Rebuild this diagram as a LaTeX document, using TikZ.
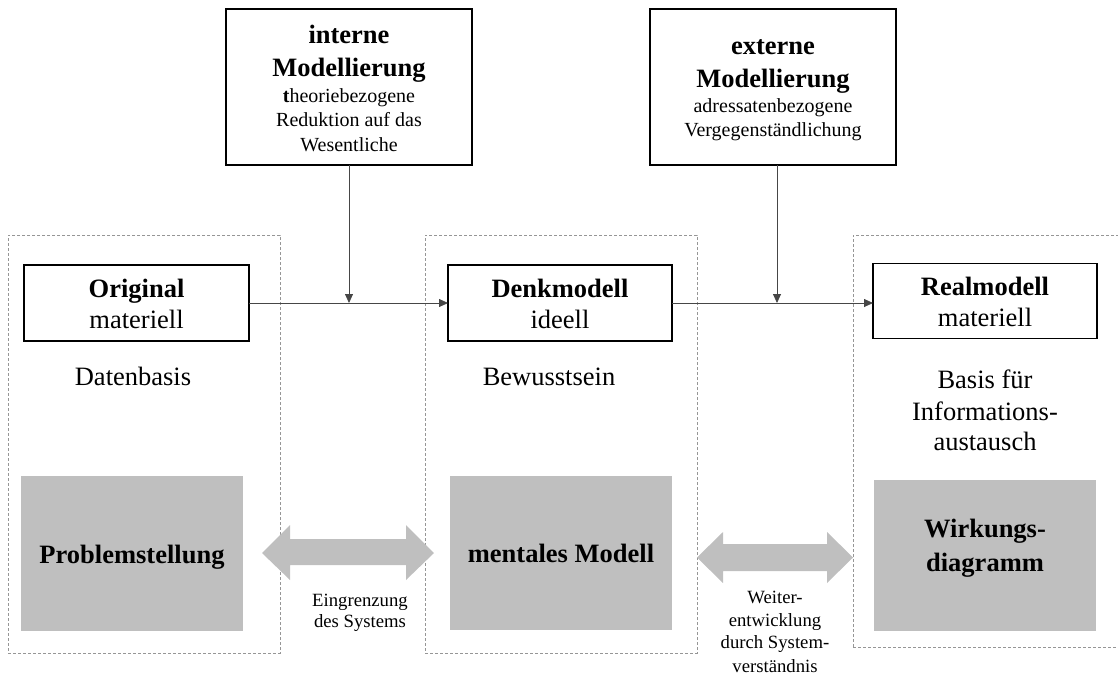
\documentclass[tikz,border=0pt]{standalone}
\usepackage{fontspec}
\setmainfont{Liberation Serif}
\usetikzlibrary{arrows.meta}
\definecolor{greyfill}{RGB}{191,191,191}
\definecolor{dashgrey}{RGB}{150,150,150}
\definecolor{linegrey}{RGB}{70,70,70}
\begin{document}
\begin{tikzpicture}[x=1pt,y=-1pt,
 box/.style={draw=black, line width=1.4pt, fill=white, inner sep=0pt, outer sep=0pt},
 container/.style={draw=dashgrey, line width=0.9pt, dash pattern=on 3pt off 2pt, inner sep=0pt},
 greybox/.style={fill=greyfill, inner sep=0pt},
 big/.style={font=\fontsize{26.5}{31}\selectfont, anchor=base, inner sep=0pt},
 bigb/.style={font=\fontsize{26.5}{31}\selectfont\bfseries, anchor=base, inner sep=0pt},
 mid/.style={font=\fontsize{20}{24}\selectfont, anchor=base, inner sep=0pt},
 small/.style={font=\fontsize{18.7}{23}\selectfont, anchor=base, inner sep=0pt},
 conn/.style={draw=linegrey, line width=0.8pt, -{Triangle[length=9pt,width=8pt]}},
 dblarrow/.style={fill=greyfill}]
\useasboundingbox (0,0) rectangle (1118,677);

% dashed containers
\node[container, minimum width=272pt, minimum height=418pt] (cl) at (144,444) {};
\node[container, minimum width=272pt, minimum height=418pt] (cm) at (561,444) {};
\node[container, minimum width=272pt, minimum height=412pt] (cr) at (989,441) {};

% top boxes
\node[box, minimum width=246pt, minimum height=156pt] (interne) at (349,87) {};
\node[bigb] (t1) at (349,44) {interne};
\node[bigb] (t2) at (349,76) {Modellierung};
\node[mid] (t3) at (349,102) {\textbf{t}heoriebezogene};
\node[mid] (t4) at (349,126) {Reduktion auf das};
\node[mid] (t5) at (349,151) {Wesentliche};

\node[box, minimum width=246pt, minimum height=156pt] (externe) at (773,87) {};
\node[bigb] (e1) at (773,55) {externe};
\node[bigb] (e2) at (773,87) {Modellierung};
\node[mid] (e3) at (773,112) {adressatenbezogene};
\node[mid] (e4) at (773,136) {Vergegenständlichung};

% model boxes
\node[box, minimum width=225pt, minimum height=76pt] (orig) at (136.5,303) {};
\node[bigb] (o1) at (136.5,297) {Original};
\node[big] (o2) at (136.5,328) {materiell};

\node[box, minimum width=224pt, minimum height=76pt] (denk) at (560,303) {};
\node[bigb] (d1) at (560,297) {Denkmodell};
\node[big] (d2) at (560,328) {ideell};

\node[box, minimum width=224pt, minimum height=75pt] (real) at (985,301) {};
\node[bigb] (r1) at (985,295) {Realmodell};
\node[big] (r2) at (985,326) {materiell};

% connectors
\coordinate (j1) at (349,303);
\coordinate (j2) at (777,303);
\draw[conn] (orig.east) -- (denk.west);
\draw[conn] (interne.south -| j1) -- (j1);
\draw[conn] (denk.east) -- (denk.east -| real.west);
\draw[conn] (externe.south -| j2) -- (j2);

% descriptions
\node[big] (db) at (133,385) {Datenbasis};
\node[big] (bw) at (549,385) {Bewusstsein};
\node[big] (bf1) at (985,388) {Basis für};
\node[big] (bf2) at (985,420) {Informations-};
\node[big] (bf3) at (985,450) {austausch};

% grey boxes
\node[greybox, minimum width=222pt, minimum height=155pt] (prob) at (132,553.5) {};
\node[bigb] (p1) at (132,563) {Problemstellung};
\node[greybox, minimum width=222pt, minimum height=154pt] (ment) at (561,553) {};
\node[bigb] (m1) at (561,562) {mentales Modell};
\node[greybox, minimum width=222pt, minimum height=151pt] (wirk) at (985,555.5) {};
\node[bigb] (w1) at (985,537) {Wirkungs-};
\node[bigb] (w2) at (985,571) {diagramm};

% double arrows
\fill[dblarrow] (262,553) -- (290,525) -- (290,539) -- (406,539) -- (406,525) -- (434,553)
  -- (406,580) -- (406,565) -- (290,565) -- (290,580) -- cycle;
\fill[dblarrow] (697,557.5) -- (723,532) -- (723,544) -- (827,544) -- (827,532) -- (853,557.5)
  -- (827,583) -- (827,571) -- (723,571) -- (723,583) -- cycle;

\node[small] (eg1) at (360,606) {Eingrenzung};
\node[small] (eg2) at (360,627) {des Systems};
\node[small] (we1) at (775,603) {Weiter-};
\node[small] (we2) at (775,626) {entwicklung};
\node[small] (we3) at (775,648) {durch System-};
\node[small] (we4) at (775,672) {verständnis};
\end{tikzpicture}
\end{document}
